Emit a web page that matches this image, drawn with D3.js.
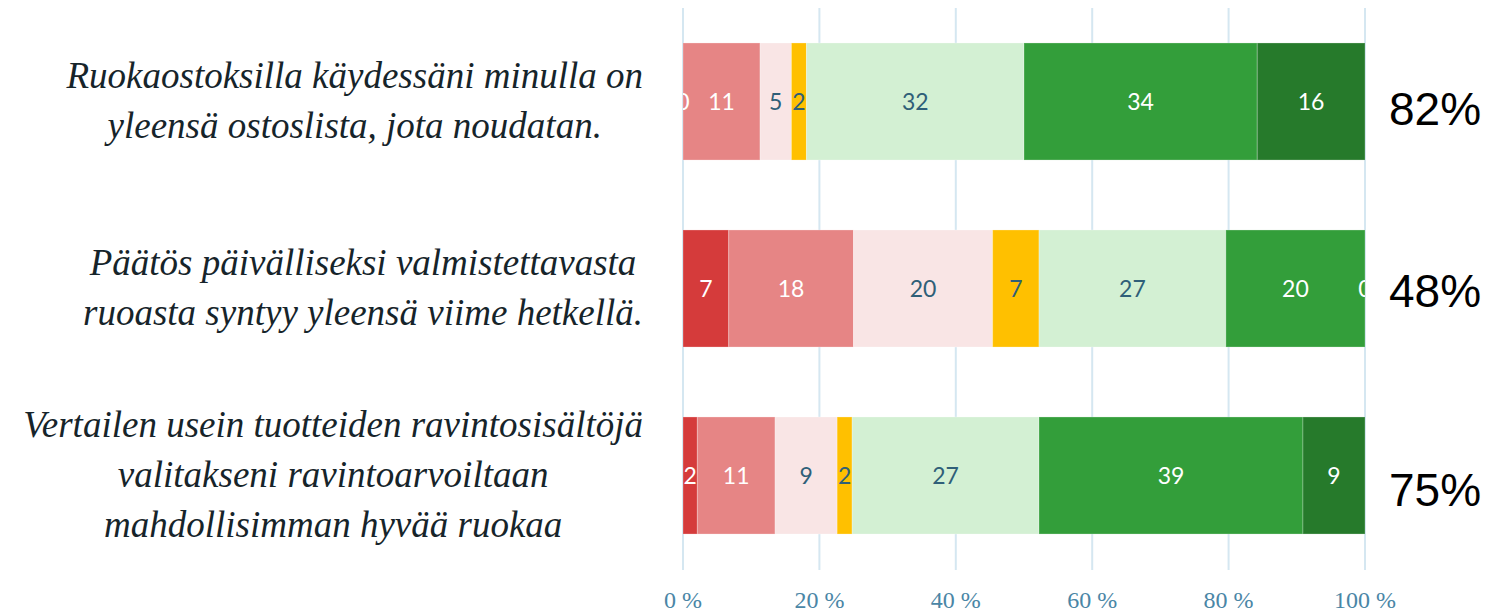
<!DOCTYPE html>
<html>
<head>
<meta charset="utf-8">
<script src="https://cdn.jsdelivr.net/npm/d3@7"></script>
<style>
  body { margin: 0; background: #fff; }
  svg { display: block; }
</style>
</head>
<body>
<svg width="1488" height="615"></svg>
<script>
// statements (each one split into display lines)
const questions = [
  ["Ruokaostoksilla käydessäni minulla on", "yleensä ostoslista, jota noudatan."],
  ["Päätös päivälliseksi valmistettavasta", "ruoasta syntyy yleensä viime hetkellä."],
  ["Vertailen usein tuotteiden ravintosisältöjä", "valitakseni ravintoarvoiltaan", "mahdollisimman hyvää ruokaa"]
];

// answer scale, from strongly disagree to strongly agree
const scaleSteps = ["s1", "s2", "s3", "s4", "s5", "s6", "s7"];
const stepColors = ["#d53b3b", "#e68585", "#f9e5e5", "#ffc000", "#d3f0d3", "#339e3a", "#267a2b"];
const lightText = [false, false, true, true, true, false, false];

// shares in percent, one array per statement
const row1 = [0, 11.3, 4.6, 2.2, 31.9, 34.2, 15.8];
const row2 = [6.7, 18.3, 20.4, 6.8, 27.4, 20.4, 0];
const row3 = [2.1, 11.4, 9.1, 2.2, 27.4, 38.7, 9.1];
const rows = [row1, row2, row3];

const xTicks = [0, 20, 40, 60, 80, 100];

const svg = d3.select("svg");

const x = d3.scaleLinear().domain([0, 100]).range([683, 1365]);
const y = d3.scaleBand()
  .domain(d3.range(rows.length))
  .range([8, 569])
  .paddingInner(0.374)
  .paddingOuter(0.187);

// grid lines
svg.append("g")
  .selectAll("line")
  .data(xTicks)
  .join("line")
  .attr("x1", (d) => x(d))
  .attr("x2", (d) => x(d))
  .attr("y1", 8)
  .attr("y2", 570)
  .attr("stroke", "#d5e7f1")
  .attr("stroke-width", 2);

// axis labels
svg.append("g")
  .selectAll("text")
  .data(xTicks)
  .join("text")
  .attr("x", (d) => x(d))
  .attr("y", 608)
  .attr("text-anchor", "middle")
  .attr("font-family", "'Liberation Serif', serif")
  .attr("font-size", 24)
  .attr("fill", "#4a86a6")
  .text((d) => d + " %");

svg.append("clipPath")
  .attr("id", "plot")
  .append("rect")
  .attr("x", x(0))
  .attr("y", 0)
  .attr("width", x(100) - x(0))
  .attr("height", 615);

// stack each row
const segs = [];
rows.forEach((vals, r) => {
  let acc = 0;
  vals.forEach((v, i) => {
    segs.push({ row: r, step: i, x0: acc, x1: acc + v, v: v });
    acc += v;
  });
});

const bars = svg.append("g").attr("clip-path", "url(#plot)");

bars.selectAll("rect")
  .data(segs)
  .join("rect")
  .attr("x", (d) => x(d.x0))
  .attr("width", (d) => x(d.x1) - x(d.x0))
  .attr("y", (d) => y(d.row))
  .attr("height", y.bandwidth())
  .attr("fill", (d) => stepColors[d.step])
  .attr("stroke", "rgba(255,255,255,0.25)")
  .attr("stroke-width", 1);

bars.selectAll("text")
  .data(segs)
  .join("text")
  .attr("x", (d) => x((d.x0 + d.x1) / 2))
  .attr("y", (d) => y(d.row) + y.bandwidth() / 2)
  .attr("dy", "0.36em")
  .attr("text-anchor", "middle")
  .attr("font-family", "Lato, 'Open Sans', sans-serif")
  .attr("font-size", 23)
  .attr("fill", (d) => (lightText[d.step] ? "#2f5f78" : "#fff"))
  .text((d) => Math.round(d.v));

// statement labels: lines centred inside a block whose right edge is fixed
const labelRight = 643;
const lineGap = 50;
questions.forEach((lines, r) => {
  const g = svg.append("g");
  const cy = y(r) + y.bandwidth() / 2;
  const t = g.selectAll("text")
    .data(lines)
    .join("text")
    .attr("y", (d, i) => cy + (i - (lines.length - 1) / 2) * lineGap)
    .attr("dy", "0.3em")
    .attr("text-anchor", "middle")
    .attr("font-family", "'Liberation Serif', serif")
    .attr("font-style", "italic")
    .attr("font-size", 37)
    .attr("fill", "#16242a")
    .text((d) => d);
  let maxW = 0;
  t.each(function () { maxW = Math.max(maxW, this.getComputedTextLength()); });
  t.attr("x", labelRight - maxW / 2);
});

// share of agreeing answers (last three steps)
const pctDy = [23, 18, 30];
svg.append("g")
  .selectAll("text")
  .data(rows)
  .join("text")
  .attr("x", 1389)
  .attr("y", (d, i) => y(i) + y.bandwidth() / 2 + pctDy[i])
  .attr("font-family", "'Liberation Sans', Arial, sans-serif")
  .attr("font-size", 46)
  .attr("fill", "#000")
  .text((d) => Math.round(d3.sum(d.slice(4))) + "%");
</script>
</body>
</html>
